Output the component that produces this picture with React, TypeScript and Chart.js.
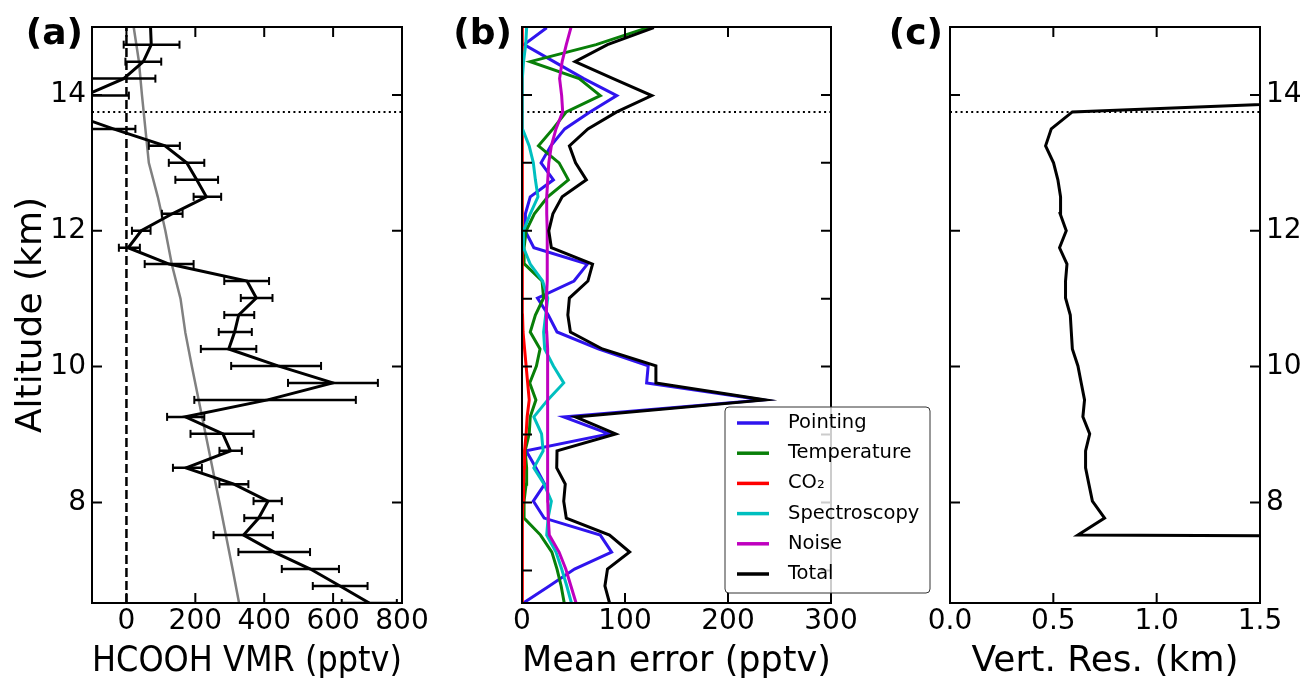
import React, { useEffect, useRef } from 'react';
import { Chart, registerables } from 'chart.js';

Chart.register(...registerables);

const FONT_FAMILY = '"DejaVu Sans", "Liberation Sans", sans-serif';
Chart.defaults.font.family = FONT_FAMILY;

// ---------- shared altitude grid (km) ----------
const altitude = [6.52, 6.77, 7.02, 7.27, 7.52, 7.77, 8.02, 8.27, 8.51, 8.76, 9.01, 9.26, 9.51, 9.76, 10.01, 10.26, 10.51, 10.76, 11.01, 11.26, 11.51, 11.75, 12.0, 12.25, 12.5, 12.75, 13.0, 13.25, 13.5, 13.75, 13.99, 14.24, 14.49, 14.74, 14.99];
const Y_MIN = 6.52;
const Y_MAX = 15.0;
const altitudeTicks = [8, 10, 12, 14];
const altitudeMinorTicks = [7, 8, 9, 10, 11, 12, 13, 14];
const cloudTopAltitude = 13.75;

// ---------- panel (a) ----------
const hcoohVmr = [705, 620, 534, 429, 340, 384, 411, 312, 173, 302, 280, 171, 410, 599, 440, 297, 314, 326, 377, 350, 124, 5, 43, 133, 232, 204, 175, 112, -38, -178, -121, -8, 49, 72, 70];
const hcoohErrLow = [625, 541, 451, 325, 253, 342, 369, 270, 135, 270, 186, 118, 197, 469, 304, 216, 268, 284, 332, 284, 53, -22, 16, 103, 195, 142, 123, 65, -106, -250, -249, -105, -3, -8];
const hcoohErrHigh = [785, 700, 617, 533, 425, 425, 451, 354, 219, 335, 369, 226, 666, 730, 565, 377, 364, 371, 424, 414, 195, 39, 70, 163, 275, 266, 226, 155, 26, -108, 7, 84, 101, 154];
const aprioriAltitude = [6.52, 7, 8, 9, 10, 10.5, 11, 11.5, 12, 12.5, 13, 13.5, 14, 14.5, 15];
const aprioriVmr = [327, 309, 270, 230, 190, 171, 157, 132, 113, 91, 65, 55, 45, 36, 21];
const VMR_MIN = -100;
const VMR_MAX = 800;
const vmrTicks = [0, 200, 400, 600, 800];

// ---------- panel (b) ----------
const pointingErr = [1.3, 26.5, 51, 87, 76, 21.5, 11, 22, 13.5, 4, 84.5, 40.5, 234, 121, 122.5, 74, 34, 25.5, 15, 50.5, 63.5, 11.5, 3, 3.3, 8, 30.5, 18.5, 28, 41.5, 66, 92, 60, 31, 2, 24];
const temperatureErr = [41, 38, 34, 29, 18, 2, 2, 4, 4.5, 3, 7, 8, 13.5, 7.5, 14, 17.5, 8, 13, 21, 19.5, 2.5, 2, 4, 12, 25, 45, 36, 16, 30, 43, 76, 55.5, 8, 72, 122];
const co2Err = [0.3, 0.3, 0.3, 0.3, 0.3, 0.5, 1, 1.5, 2, 2.5, 4, 5, 7, 5.5, 4, 2.5, 1, 0.5, 0.3, 0.3, 0.3, 0.3, 0.3, 0.3, 0.3, 0.3, 0.3, 0.3, 0.3, 0.3, 0.3, 0.3, 0.3, 0.3, 0.3];
const spectroscopyErr = [48, 43.5, 38.5, 33, 24, 25.3, 28.5, 21.5, 11.5, 20.5, 19, 11.5, 25, 40.5, 30.5, 22, 21, 23, 25, 20, 8, 1.5, 1.5, 8, 15.5, 13, 11, 7, 0.5, 0.3, 0.3, 0.3, 1.5, 3.6, 4.5];
const noiseErr = [52.5, 47.5, 42.5, 36, 26.5, 25.5, 25, 25, 25, 25, 25, 25, 25, 25, 24.5, 24.5, 24, 23.5, 24, 24.5, 24.5, 24.5, 24.5, 24, 24, 25, 26, 28.5, 33, 39.5, 38.5, 36.5, 39, 43, 47.5];
const totalErr = [85, 80.5, 83, 104.5, 85, 43, 40.5, 42, 33.7, 34, 91, 52, 236, 130, 130, 78, 47, 44.5, 46, 64, 68.5, 28.5, 26, 30, 39, 62.5, 52, 46, 64, 92, 126, 88.5, 51.5, 83, 128];
const ERR_MIN = 0;
const ERR_MAX = 300;
const errTicks = [0, 100, 200, 300];

// ---------- panel (c) ----------
const resolutionAltitude = [7.27, 7.52, 7.77, 8.02, 8.27, 8.51, 8.76, 9.01, 9.26, 9.51, 9.76, 10.01, 10.26, 10.51, 10.76, 11.01, 11.26, 11.51, 11.75, 12.0, 12.25, 12.5, 12.75, 13.0, 13.25, 13.5, 13.75, 13.99];
const vertRes = [20, 0.619, 0.748, 0.689, 0.672, 0.656, 0.656, 0.676, 0.643, 0.651, 0.635, 0.619, 0.592, 0.587, 0.582, 0.559, 0.559, 0.566, 0.53, 0.5625, 0.533, 0.535, 0.522, 0.501, 0.4625, 0.49, 0.592, 2.6];
const RES_MIN = 0;
const RES_MAX = 1.5;
const resTicks = [0, 0.5, 1.0, 1.5];

const COLORS = {
  pointing: '#2f14ee',
  temperature: '#087f08',
  co2: '#ff0000',
  spectroscopy: '#00bfbf',
  noise: '#bf00bf',
  total: '#000000',
};

const tickFont = { family: FONT_FAMILY, size: 28 };
const titleFont = { family: FONT_FAMILY, size: 36 };

const xy = (xs: number[], ys: number[]) => xs.map((v, i) => ({ x: v, y: ys[i] }));

function panelScales(p: any) {
  return {
    x: {
      type: 'linear',
      position: 'bottom',
      min: p.xMin,
      max: p.xMax,
      grid: { display: false, drawTicks: false, tickLength: 0 },
      border: { display: false },
      afterBuildTicks: (s: any) => {
        s.ticks = p.xTicks.map((v: number) => ({ value: v }));
      },
      afterFit: (s: any) => {
        s.height = 77;
        s.paddingLeft = 0;
        s.paddingRight = 0;
      },
      ticks: {
        font: tickFont,
        color: '#000',
        padding: 2,
        autoSkip: false,
        maxRotation: 0,
        minRotation: 0,
        callback: (v: any) => p.xFormat(Number(v)),
      },
      title: {
        display: true,
        text: p.xTitle,
        font: titleFont,
        color: '#000',
        padding: { top: 0, bottom: -3 },
      },
    },
    y: {
      type: 'linear',
      position: p.yPosition,
      min: Y_MIN,
      max: Y_MAX,
      grid: { display: false, drawTicks: false, tickLength: 0 },
      border: { display: false },
      afterBuildTicks: (s: any) => {
        s.ticks = p.yTicks.map((v: number) => ({ value: v }));
      },
      afterFit: (s: any) => {
        s.width = p.yWidth;
        s.paddingTop = 0;
        s.paddingBottom = 0;
      },
      ticks: {
        display: p.yLabels,
        font: tickFont,
        color: '#000',
        padding: 6,
        autoSkip: false,
        callback: (v: any) => String(v),
      },
      title: {
        display: !!p.yTitle,
        text: p.yTitle || '',
        font: titleFont,
        color: '#000',
        padding: { top: 10, bottom: 0 },
      },
    },
  };
}

const decorPlugin = {
  id: 'decor',
  afterDatasetsDraw(chart: any) {
    const { ctx, chartArea: ca, scales } = chart;
    ctx.save();
    ctx.strokeStyle = '#000';
    ctx.lineWidth = 2;
    ctx.strokeRect(ca.left, ca.top, ca.right - ca.left, ca.bottom - ca.top);
    const tl = 10;
    ctx.beginPath();
    for (const t of scales.x.ticks) {
      const px = scales.x.getPixelForValue(t.value);
      ctx.moveTo(px, ca.bottom);
      ctx.lineTo(px, ca.bottom - tl);
      ctx.moveTo(px, ca.top);
      ctx.lineTo(px, ca.top + tl);
    }
    for (const t of scales.y.ticks) {
      const py = scales.y.getPixelForValue(t.value);
      ctx.moveTo(ca.left, py);
      ctx.lineTo(ca.left + tl, py);
      ctx.moveTo(ca.right, py);
      ctx.lineTo(ca.right - tl, py);
    }
    ctx.stroke();
    ctx.restore();
  },
  afterDraw(chart: any, _args: any, opts: any) {
    const { ctx, chartArea: ca } = chart;
    ctx.save();
    ctx.fillStyle = '#000';
    ctx.font = `bold 36px ${FONT_FAMILY}`;
    ctx.textAlign = 'right';
    ctx.textBaseline = 'alphabetic';
    ctx.fillText(opts.label, ca.left + opts.labelDx, 43.5);

    if (opts.legend) {
      const entries = chart.data.datasets.filter((d: any) => d.inLegend);
      const bx = ca.left + 203;
      const by = ca.top + 380;
      const bw = 205;
      const bh = 186;
      const r = 4;
      ctx.beginPath();
      ctx.moveTo(bx + r, by);
      ctx.lineTo(bx + bw - r, by);
      ctx.arcTo(bx + bw, by, bx + bw, by + r, r);
      ctx.lineTo(bx + bw, by + bh - r);
      ctx.arcTo(bx + bw, by + bh, bx + bw - r, by + bh, r);
      ctx.lineTo(bx + r, by + bh);
      ctx.arcTo(bx, by + bh, bx, by + bh - r, r);
      ctx.lineTo(bx, by + r);
      ctx.arcTo(bx, by, bx + r, by, r);
      ctx.closePath();
      ctx.fillStyle = 'rgba(255,255,255,0.8)';
      ctx.fill();
      ctx.strokeStyle = '#333';
      ctx.lineWidth = 1;
      ctx.stroke();

      ctx.font = `19.5px ${FONT_FAMILY}`;
      ctx.textAlign = 'left';
      ctx.textBaseline = 'middle';
      entries.forEach((d: any, i: number) => {
        const y = by + 16 + i * 30.2;
        ctx.strokeStyle = d.borderColor;
        ctx.lineWidth = 3.5;
        ctx.beginPath();
        ctx.moveTo(bx + 12, y);
        ctx.lineTo(bx + 44, y);
        ctx.stroke();
        ctx.fillStyle = '#000';
        ctx.fillText(d.label, bx + 63, y);
      });
    }
    ctx.restore();
  },
};

const lineDs = (label: string, data: any[], color: string, width: number, order: number, extra: any = {}) => ({
  label,
  data,
  showLine: true,
  borderColor: color,
  backgroundColor: color,
  borderWidth: width,
  pointRadius: 0,
  pointHoverRadius: 0,
  order,
  clip: 1,
  ...extra,
});

function configA(): any {
  const errorBars = hcoohErrLow.flatMap((lo, i) => [
    { x: lo, y: altitude[i] },
    { x: hcoohErrHigh[i], y: altitude[i] },
    { x: NaN, y: NaN },
  ]);
  return {
    type: 'scatter',
    data: {
      datasets: [
        lineDs('HCOOH', xy(hcoohVmr, altitude), '#000', 3, 1),
        lineDs('Error', errorBars, '#000', 2.5, 2, {
          pointRadius: 4,
          pointStyle: 'line',
          pointRotation: 90,
          pointBorderWidth: 2,
          pointBorderColor: '#000',
        }),
        lineDs('A priori', xy(aprioriVmr, aprioriAltitude), '#808080', 2.5, 3),
        lineDs('Zero', [{ x: 0, y: Y_MIN }, { x: 0, y: Y_MAX }], '#000', 2.5, 4, { borderDash: [9, 4] }),
        lineDs('Cloud top', [{ x: VMR_MIN, y: cloudTopAltitude }, { x: VMR_MAX, y: cloudTopAltitude }], '#000', 2, 5, { borderDash: [2, 3.3] }),
      ],
    },
    options: {
      animation: false,
      responsive: false,
      maintainAspectRatio: false,
      events: [],
      layout: { padding: { top: 27, right: 28, bottom: 0, left: 0 } },
      scales: panelScales({
        xMin: VMR_MIN, xMax: VMR_MAX, xTicks: vmrTicks, xFormat: (v: number) => String(v), xTitle: 'HCOOH VMR (pptv)',
        yPosition: 'left', yWidth: 92, yTicks: altitudeTicks, yLabels: true, yTitle: 'Altitude (km)',
      }),
      plugins: {
        legend: { display: false },
        tooltip: { enabled: false },
        decor: { label: '(a)', labelDx: -9, legend: false },
      },
    },
    plugins: [decorPlugin],
  };
}

function configB(): any {
  return {
    type: 'scatter',
    data: {
      datasets: [
        lineDs('Pointing', xy(pointingErr, altitude), COLORS.pointing, 3, 6, { inLegend: true }),
        lineDs('Temperature', xy(temperatureErr, altitude), COLORS.temperature, 3, 5, { inLegend: true }),
        lineDs('CO\u2082', xy(co2Err, altitude), COLORS.co2, 3, 4, { inLegend: true }),
        lineDs('Spectroscopy', xy(spectroscopyErr, altitude), COLORS.spectroscopy, 3, 3, { inLegend: true }),
        lineDs('Noise', xy(noiseErr, altitude), COLORS.noise, 3, 2, { inLegend: true }),
        lineDs('Total', xy(totalErr, altitude), COLORS.total, 3, 1, { inLegend: true }),
        lineDs('Cloud top', [{ x: ERR_MIN, y: cloudTopAltitude }, { x: ERR_MAX, y: cloudTopAltitude }], '#000', 2, 10, { borderDash: [2, 3.3] }),
      ],
    },
    options: {
      animation: false,
      responsive: false,
      maintainAspectRatio: false,
      events: [],
      layout: { padding: { top: 27, right: 109, bottom: 0, left: 0 } },
      scales: panelScales({
        xMin: ERR_MIN, xMax: ERR_MAX, xTicks: errTicks, xFormat: (v: number) => String(v), xTitle: 'Mean error (pptv)',
        yPosition: 'left', yWidth: 92, yTicks: altitudeMinorTicks, yLabels: false, yTitle: '',
      }),
      plugins: {
        legend: { display: false },
        tooltip: { enabled: false },
        decor: { label: '(b)', labelDx: -10, legend: true },
      },
    },
    plugins: [decorPlugin],
  };
}

function configC(): any {
  return {
    type: 'scatter',
    data: {
      datasets: [
        lineDs('Vertical resolution', xy(vertRes, resolutionAltitude), '#000', 3, 1),
        lineDs('Cloud top', [{ x: RES_MIN, y: cloudTopAltitude }, { x: RES_MAX, y: cloudTopAltitude }], '#000', 2, 2, { borderDash: [2, 3.3] }),
      ],
    },
    options: {
      animation: false,
      responsive: false,
      maintainAspectRatio: false,
      events: [],
      layout: { padding: { top: 27, right: 0, bottom: 0, left: 80 } },
      scales: panelScales({
        xMin: RES_MIN, xMax: RES_MAX, xTicks: resTicks, xFormat: (v: number) => v.toFixed(1), xTitle: 'Vert. Res. (km)',
        yPosition: 'right', yWidth: 43, yTicks: altitudeTicks, yLabels: true, yTitle: '',
      }),
      plugins: {
        legend: { display: false },
        tooltip: { enabled: false },
        decor: { label: '(c)', labelDx: -7, legend: false },
      },
    },
    plugins: [decorPlugin],
  };
}

export default function App() {
  const refA = useRef<HTMLCanvasElement>(null);
  const refB = useRef<HTMLCanvasElement>(null);
  const refC = useRef<HTMLCanvasElement>(null);

  useEffect(() => {
    const charts = [
      new Chart(refA.current as HTMLCanvasElement, configA()),
      new Chart(refB.current as HTMLCanvasElement, configB()),
      new Chart(refC.current as HTMLCanvasElement, configC()),
    ];
    return () => charts.forEach((c) => c.destroy());
  }, []);

  const cs = (left: number, width: number): React.CSSProperties => ({
    position: 'absolute',
    left,
    top: 0,
    width,
    height: 680,
  });

  return (
    <div style={{ position: 'fixed', left: 0, top: 0, width: 1303, height: 680, background: '#fff', overflow: 'hidden' }}>
      <canvas ref={refA} width={430} height={680} style={cs(0, 430)} />
      <canvas ref={refB} width={510} height={680} style={cs(430, 510)} />
      <canvas ref={refC} width={433} height={680} style={cs(870, 433)} />
    </div>
  );
}
